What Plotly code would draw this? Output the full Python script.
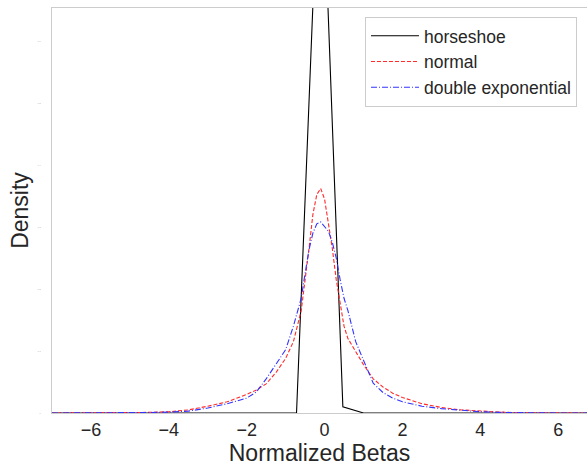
import plotly.graph_objects as go

# ---- data ----
hs_x = [-7.0, -0.72, -0.10, 0.47, 1.0, 7.0]
hs_y = [0.0, 0.0, 0.97, 0.010, 0.0, 0.0]

grid_x = [-7, -6, -5, -4.5, -4, -3.5, -3, -2.5, -2, -1.75, -1.5, -1.25, -1, -0.8, -0.6,
          -0.5, -0.4, -0.3, -0.2, -0.1, 0, 0.1, 0.2, 0.3, 0.4, 0.5, 0.6, 0.8, 1, 1.25,
          1.5, 1.75, 2, 2.5, 3, 3.5, 4, 4.5, 5, 6, 7]

normal_y = [0.0, 0.0, 0.0005, 0.001, 0.002, 0.005, 0.011, 0.018, 0.030, 0.037, 0.047,
            0.065, 0.088, 0.115, 0.165, 0.212, 0.265, 0.320, 0.352, 0.362, 0.345,
            0.305, 0.265, 0.215, 0.175, 0.140, 0.120, 0.098, 0.078, 0.055, 0.042,
            0.032, 0.025, 0.015, 0.009, 0.005, 0.003, 0.0015, 0.0005, 0.0, 0.0]

dexp_y = [0.0, 0.0, 0.0004, 0.0008, 0.0015, 0.003, 0.008, 0.015, 0.024, 0.034, 0.055,
          0.078, 0.102, 0.140, 0.185, 0.225, 0.263, 0.290, 0.305, 0.308, 0.300,
          0.293, 0.275, 0.250, 0.215, 0.185, 0.165, 0.115, 0.085, 0.048, 0.033,
          0.024, 0.018, 0.011, 0.007, 0.004, 0.002, 0.001, 0.0005, 0.0, 0.0]

series_names = ["horseshoe", "normal", "double exponential"]
x_ticks = [-6, -4, -2, 0, 2, 4, 6]
y_ticks = [0, 0.1, 0.2, 0.3, 0.4, 0.5, 0.6]

fig = go.Figure()
fig.add_trace(go.Scatter(x=hs_x, y=hs_y, mode="lines", name=series_names[0],
                         line=dict(color="black", width=1.1)))
fig.add_trace(go.Scatter(x=grid_x, y=normal_y, mode="lines", name=series_names[1],
                         line=dict(color="#ff2a2a", width=1.1, dash="4px,2px")))
fig.add_trace(go.Scatter(x=grid_x, y=dexp_y, mode="lines", name=series_names[2],
                         line=dict(color="#3333ff", width=1.1, dash="6px,2px,1px,2px")))

fig.update_layout(
    width=587, height=470,
    margin=dict(l=52, r=0, t=8, b=57),
    paper_bgcolor="white", plot_bgcolor="white",
    font=dict(family="Liberation Sans, Arial, sans-serif", color="#262626"),
    showlegend=True,
    legend=dict(x=0.585, y=0.978, xanchor="left", yanchor="top",
                bordercolor="#cccccc", borderwidth=1, bgcolor="white",
                font=dict(size=17.5, color="#262626"), tracegroupgap=0,
                itemwidth=48),
    xaxis=dict(range=[-7, 6.74], tickvals=x_ticks, showgrid=False, zeroline=False,
               showline=True, mirror=True, linecolor="#cccccc", linewidth=1.2,
               ticks="", tickfont=dict(size=18, color="#262626"),
               title=dict(text="Normalized Betas", font=dict(size=23, color="#262626"), standoff=4)),
    yaxis=dict(range=[0, 0.653], tickvals=y_ticks, showgrid=False, zeroline=False,
               showline=True, mirror=False, linecolor="#cccccc", linewidth=1.2,
               ticks="", ticklabelstandoff=10, tickfont=dict(size=2, color="#999999"),
               title=dict(text="Density", font=dict(size=23, color="#262626"), standoff=2)),
)

fig.write_html("out.html")
